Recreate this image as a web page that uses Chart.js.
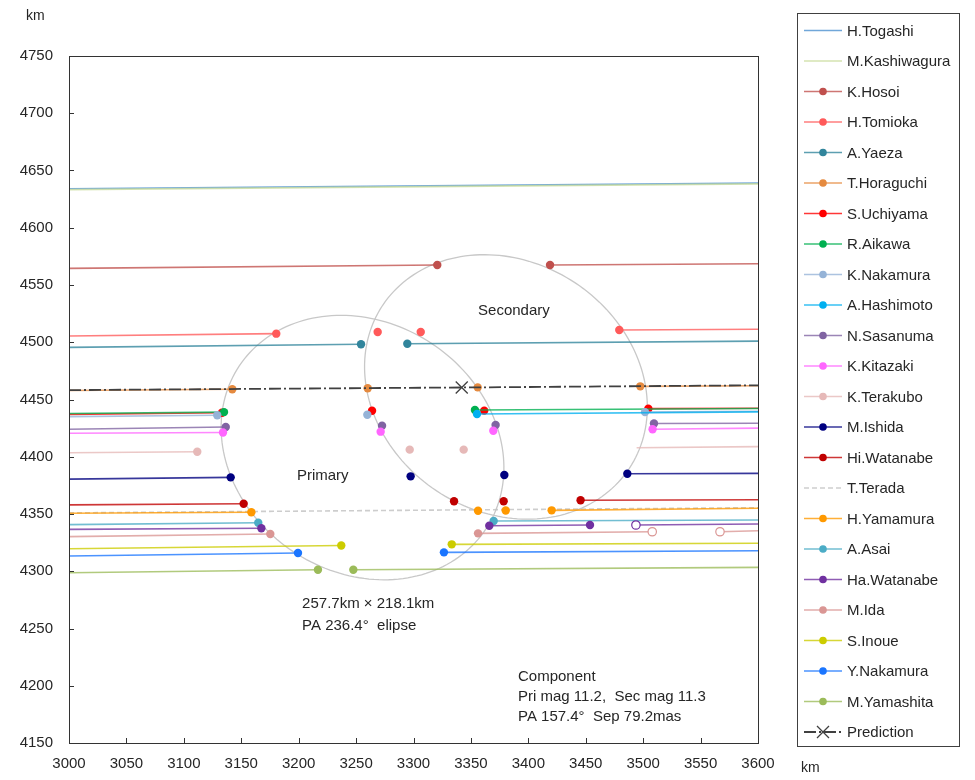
<!DOCTYPE html>
<html>
<head>
<meta charset="utf-8">
<script src="https://cdn.jsdelivr.net/npm/chart.js@4.4.1/dist/chart.umd.min.js"></script>
<style>
  html, body { margin: 0; padding: 0; background: #fff; }
</style>
</head>
<body>
<canvas id="chordChart" width="975" height="780"></canvas>
<script>
// observer names, in legend order
const observers = [
  'H.Togashi', 'M.Kashiwagura', 'K.Hosoi', 'H.Tomioka', 'A.Yaeza', 'T.Horaguchi',
  'S.Uchiyama', 'R.Aikawa', 'K.Nakamura', 'A.Hashimoto', 'N.Sasanuma', 'K.Kitazaki',
  'K.Terakubo', 'M.Ishida', 'Hi.Watanabe', 'T.Terada', 'H.Yamamura', 'A.Asai',
  'Ha.Watanabe', 'M.Ida', 'S.Inoue', 'Y.Nakamura', 'M.Yamashita', 'Prediction'
];

// chord points [x km, y km, kind]  kind: 0 chord end, 1 event, 2 uncertain event, 3 predicted centre
// null breaks the chord (star hidden)
const togashi = [[3000, 4634, 0], [3600, 4639, 0]];
const kashiwagura = [[3000, 4633.3, 0], [3600, 4638.3, 0]];
const hosoi = [[3000, 4564.5, 0], [3320.7, 4567.5, 1], null, [3418.9, 4567.5, 1], [3600, 4568.5, 0]];
const tomioka = [[3000, 4505.5, 0], [3180.5, 4507.5, 1], null, [3268.8, 4509, 1], null, [3306.3, 4509, 1], null, [3479.2, 4510.7, 1], [3600, 4511.3, 0]];
const yaeza = [[3000, 4495.5, 0], [3254.3, 4498.2, 1], null, [3294.6, 4498.7, 1], [3600, 4501, 0]];
const horaguchi = [[3000, 4457.8, 0], [3142.2, 4459, 1], null, [3260.1, 4459.8, 1], null, [3355.9, 4460.6, 1], null, [3497.5, 4461.5, 1], [3600, 4462, 0]];
const uchiyama = [[3000, 4437, 0], [3133.2, 4438.4, 1], null, [3263.9, 4440.2, 1], null, [3361.6, 4440.3, 1], null, [3504.5, 4442, 1], [3600, 4442.3, 0]];
const aikawa = [[3000, 4437.8, 0], [3135, 4439, 1], null, [3353.5, 4440.8, 1], [3600, 4442.2, 0]];
const kNakamura = [[3000, 4435, 0], [3129.1, 4436.2, 1], null, [3259.8, 4436.7, 1], null, [3501.6, 4439, 1], [3600, 4439.8, 0]];
const hashimoto = [[3355.3, 4437.3, 1], [3600, 4439.2, 0]];
const sasanuma = [[3000, 4424, 0], [3136.5, 4426, 1], null, [3272.6, 4427.1, 1], null, [3371.5, 4427.7, 1], null, [3509.4, 4429, 1], [3600, 4429.2, 0]];
const kitazaki = [[3000, 4420.5, 0], [3134.1, 4421.2, 1], null, [3271.4, 4421.9, 1], null, [3369.5, 4422.7, 1], null, [3508.2, 4424, 1], [3600, 4425, 0]];
const terakubo = [[3000, 4403.5, 0], [3111.7, 4404.4, 1], null, [3296.7, 4406.2, 1], null, [3343.7, 4406.2, 1], null, [3494.3, 4407.9, 0], [3600, 4408.8, 0]];
const ishida = [[3000, 4380.5, 0], [3140.8, 4382, 1], null, [3297.5, 4382.9, 1], null, [3379.1, 4384, 1], null, [3486.2, 4385.2, 1], [3600, 4385.5, 0]];
const hiWatanabe = [[3000, 4358, 0], [3152.1, 4359, 1], null, [3335.3, 4361.1, 1], null, [3378.5, 4361.1, 1], null, [3445.5, 4362, 1], [3600, 4362.5, 0]];
const terada = [[3000, 4351, 0], [3600, 4355.5, 0]];
const yamamura = [[3000, 4350.6, 0], [3158.8, 4351.5, 1], null, [3356.2, 4352.9, 1], null, [3380.3, 4353.1, 1], null, [3420.3, 4353.2, 1], [3600, 4355, 0]];
const asai = [[3000, 4340.7, 0], [3164.8, 4342.3, 1], null, [3369.8, 4343.9, 1], [3600, 4344.8, 0]];
const haWatanabe = [[3000, 4336.6, 0], [3167.5, 4337.5, 1], null, [3366, 4339.8, 1], [3453.7, 4340.4, 1], null, [3493.7, 4340.4, 2], [3600, 4341.3, 0]];
const ida = [[3000, 4330.2, 0], [3175.3, 4332.5, 1], null, [3356.2, 4333.1, 1], [3507.9, 4334.5, 2], null, [3566.9, 4334.5, 2], [3600, 4335.4, 0]];
const inoue = [[3000, 4319.7, 0], [3237.1, 4322.5, 1], null, [3333.3, 4323.5, 1], [3600, 4324.4, 0]];
const yNakamura = [[3000, 4313.3, 0], [3199.4, 4315.9, 1], null, [3326.5, 4316.5, 1], [3600, 4317.9, 0]];
const yamashita = [[3000, 4298.7, 0], [3216.8, 4301.3, 1], null, [3247.6, 4301.3, 1], [3600, 4303.4, 0]];
const prediction = [[3000, 4458.2, 0], [3342, 4460.5, 3], [3600, 4462.4, 0]];

const chords = [
  togashi, kashiwagura, hosoi, tomioka, yaeza, horaguchi, uchiyama, aikawa, kNakamura,
  hashimoto, sasanuma, kitazaki, terakubo, ishida, hiWatanabe, terada, yamamura, asai,
  haWatanabe, ida, inoue, yNakamura, yamashita, prediction
];

// fitted outline: size (km) and position angle, centres of both components
const ellipseAxes = [257.7, 218.1];
const ellipsePA = 236.4;
const primaryCentre = [3255.6, 4408];
const secondaryCentre = [3380.5, 4461];

// axis ranges
const xRange = [3000, 3600];
const yRange = [4150, 4750];

const colors = [
  '#4a8fcf', '#c9dc9c', '#c0504d', '#ff5a5a', '#31859c', '#e58a3f',
  '#ff0000', '#00b050', '#95b3d7', '#00b0f0', '#8064a2', '#ff66ff',
  '#e6b9b8', '#000080', '#c00000', '#bfbfbf', '#ff9900', '#4bacc6',
  '#7030a0', '#da9694', '#cccc00', '#1a75ff', '#9bbb59', '#404040'
];

const FONT = "'Liberation Sans', Arial, sans-serif";
const TEXT = '#262626';

function toPoints(rows) {
  return rows.map((r, i) => r === null
    ? { x: rows[i - 1][0], y: null, k: 0 }
    : { x: r[0], y: r[1], k: r[2] });
}

function lineDash(i) {
  if (observers[i] === 'T.Terada') return [5, 3];
  if (observers[i] === 'Prediction') return [12, 3, 2, 3];
  return [];
}

const datasets = chords.map((rows, i) => {
  const c = colors[i];
  const isPred = observers[i] === 'Prediction';
  return {
    label: observers[i],
    data: toPoints(rows),
    borderColor: isPred ? c : c + 'c8',
    borderWidth: isPred ? 1.8 : 1.6,
    borderDash: lineDash(i),
    spanGaps: false,
    pointStyle: ctx => (ctx.raw && ctx.raw.k === 3) ? 'crossRot' : 'circle',
    pointRadius: ctx => {
      const k = ctx.raw ? ctx.raw.k : 0;
      return k === 3 ? 8.5 : (k ? 4.2 : 0);
    },
    pointBackgroundColor: ctx => (ctx.raw && ctx.raw.k === 2) ? '#ffffff' : c,
    pointBorderColor: c,
    pointBorderWidth: ctx => {
      const k = ctx.raw ? ctx.raw.k : 0;
      return k === 2 ? 1.2 : (k === 3 ? 1.3 : 0);
    },
    order: chords.length - i
  };
});

// both component outlines, grey, under the chords
function drawEllipse(ctx, xs, ys, centre) {
  const a = ellipseAxes[0] / 2, b = ellipseAxes[1] / 2;
  const pa = ellipsePA * Math.PI / 180;
  // major axis direction (east to the left)
  const ux = -Math.sin(pa), uy = Math.cos(pa);
  const vx = -uy, vy = ux;
  ctx.beginPath();
  for (let d = 0; d <= 360; d += 2) {
    const t = d * Math.PI / 180;
    const px = centre[0] + a * Math.cos(t) * ux + b * Math.sin(t) * vx;
    const py = centre[1] + a * Math.cos(t) * uy + b * Math.sin(t) * vy;
    const X = xs.getPixelForValue(px), Y = ys.getPixelForValue(py);
    if (d === 0) ctx.moveTo(X, Y); else ctx.lineTo(X, Y);
  }
  ctx.closePath();
  ctx.stroke();
}

const chordDecor = {
  id: 'chordDecor',
  beforeDatasetsDraw(chart) {
    const { ctx, scales: { x, y } } = chart;
    ctx.save();
    ctx.strokeStyle = '#c8c8c8';
    ctx.lineWidth = 1.3;
    drawEllipse(ctx, x, y, primaryCentre);
    drawEllipse(ctx, x, y, secondaryCentre);
    ctx.restore();
  },
  afterDraw(chart) {
    const { ctx, chartArea: { left, right, top, bottom }, scales: { x, y } } = chart;
    ctx.save();

    // frame and inward tick marks
    ctx.strokeStyle = '#333';
    ctx.lineWidth = 1;
    ctx.strokeRect(left + 0.5, top + 0.5, right - left, bottom - top);
    ctx.beginPath();
    x.ticks.forEach(t => {
      const px = Math.round(x.getPixelForValue(t.value)) + 0.5;
      ctx.moveTo(px, bottom); ctx.lineTo(px, bottom - 5);
    });
    y.ticks.forEach(t => {
      const py = Math.round(y.getPixelForValue(t.value)) + 0.5;
      ctx.moveTo(left, py); ctx.lineTo(left + 5, py);
    });
    ctx.stroke();

    // texts placed in km
    ctx.fillStyle = TEXT;
    ctx.font = '15px ' + FONT;
    ctx.textAlign = 'left';
    ctx.textBaseline = 'middle';
    const put = (s, kx, ky) => ctx.fillText(s, x.getPixelForValue(kx), y.getPixelForValue(ky));
    put('Primary', 3198.5, 4383.2);
    put('Secondary', 3356.2, 4527);
    put('257.7km × 218.1km', 3203, 4271.4);
    put('PA 236.4°  elipse', 3203, 4252.2);
    put('Component', 3391, 4207.6);
    put('Pri mag 11.2,  Sec mag 11.3', 3391, 4190.2);
    put('PA 157.4°  Sep 79.2mas', 3391, 4172.7);

    // axis units
    ctx.font = '14px ' + FONT;
    ctx.fillText('km', 26, 16);
    ctx.fillText('km', 801, 768);

    // legend
    const lx = 797, ly = 13, lw = 162, lh = 733;
    ctx.strokeStyle = '#404040';
    ctx.strokeRect(lx + 0.5, ly + 0.5, lw, lh);
    ctx.font = '15px ' + FONT;
    chart.data.datasets.forEach((ds, i) => {
      const cy = 30.5 + i * 30.5;
      const c = colors[i];
      ctx.save();
      ctx.strokeStyle = ds.borderColor;
      ctx.lineWidth = ds.borderWidth;
      ctx.setLineDash(ds.borderDash);
      ctx.beginPath();
      ctx.moveTo(804, cy); ctx.lineTo(842, cy);
      ctx.stroke();
      ctx.restore();
      const kinds = chords[i].filter(r => r).map(r => r[2]);
      if (kinds.includes(3)) {
        ctx.strokeStyle = c;
        ctx.lineWidth = 1.3;
        ctx.beginPath();
        ctx.moveTo(817, cy - 6); ctx.lineTo(829, cy + 6);
        ctx.moveTo(829, cy - 6); ctx.lineTo(817, cy + 6);
        ctx.stroke();
      } else if (kinds.includes(1)) {
        ctx.fillStyle = c;
        ctx.beginPath();
        ctx.arc(823, cy, 3.8, 0, Math.PI * 2);
        ctx.fill();
      }
      ctx.fillStyle = TEXT;
      ctx.fillText(ds.label, 847, cy + 1);
    });
    ctx.restore();
  }
};

new Chart(document.getElementById('chordChart'), {
  type: 'line',
  data: { datasets },
  options: {
    responsive: false,
    animation: false,
    events: [],
    devicePixelRatio: 1,
    layout: { padding: { top: 56, right: 217, left: 0, bottom: 0 } },
    plugins: { legend: { display: false }, tooltip: { enabled: false } },
    scales: {
      x: {
        type: 'linear',
        min: xRange[0], max: xRange[1],
        grid: { display: false, drawTicks: false },
        border: { display: false },
        ticks: { stepSize: 50, padding: 12, color: TEXT, font: { family: FONT, size: 15 }, callback: v => String(v), maxRotation: 0 },
        afterFit: s => { s.height = 37; }
      },
      y: {
        type: 'linear',
        min: yRange[0], max: yRange[1],
        grid: { display: false, drawTicks: false },
        border: { display: false },
        ticks: { stepSize: 50, padding: 16, color: TEXT, font: { family: FONT, size: 15 }, callback: v => String(v) },
        afterFit: s => { s.width = 69; }
      }
    }
  },
  plugins: [chordDecor]
});
</script>
</body>
</html>
